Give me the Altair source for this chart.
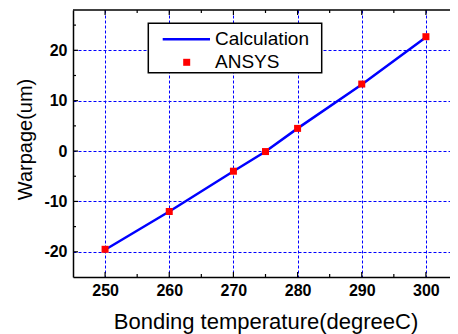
import altair as alt
import pandas as pd

# ---- data ----
temps = [250, 260, 270, 275, 280, 290, 300]
ansys = [-19.5, -12.0, -4.0, -0.1, 4.5, 13.3, 22.7]
calc = [-19.6, -12.0, -4.0, -0.1, 4.5, 13.2, 22.6]

x_major = [250, 260, 270, 280, 290, 300]
x_minor = [255, 265, 275, 285, 295]
y_major = [-20, -10, 0, 10, 20]
y_minor = [-15, -5, 5, 15, 25]
legend_labels = ["Calculation", "ANSYS"]

x_title = "Bonding temperature(degreeC)"
y_title = "Warpage(um)"

W, H = 385, 267
FONT = "Liberation Sans"
BLUE = "#0000ff"
RED = "#ff0000"

df = pd.DataFrame({"T": temps, "ANSYS": ansys, "Calc": calc})
one = pd.DataFrame({"k": [0]})

xs = alt.Scale(domain=[245, 305], nice=False, zero=False)
ys = alt.Scale(domain=[-25, 28], nice=False, zero=False)

grid_common = dict(
    grid=True, gridColor=BLUE, gridDash=[3, 2], gridWidth=1,
    ticks=False, tickSize=0, domain=True, domainColor="black", domainWidth=1.5,
    labelFont=FONT, labelFontWeight="bold", labelFontSize=16, labelColor="black",
    labelExpr="'' + datum.value",
    titleFont=FONT, titleFontWeight="normal", titleColor="black",
)

X_AX = alt.Axis(
    values=x_major, title=x_title, labelPadding=5, titleFontSize=22,
    titleX=W / 2, titleY=51, titleAlign="center", titleBaseline="alphabetic",
    **grid_common)
Y_AX = alt.Axis(
    values=y_major, title=y_title, labelPadding=6, titleFontSize=20,
    titleX=-42, titleY=129, titleAngle=270, titleAlign="center",
    titleBaseline="alphabetic", **grid_common)

line = alt.Chart(df).mark_line(color=BLUE, strokeWidth=2.5).encode(
    x=alt.X("T:Q", scale=xs, axis=X_AX),
    y=alt.Y("Calc:Q", scale=ys, axis=Y_AX),
)

pts = alt.Chart(df).mark_square(color=RED, size=49, opacity=1).encode(
    x=alt.X("T:Q", scale=xs, axis=X_AX),
    y=alt.Y("ANSYS:Q", scale=ys, axis=Y_AX),
)


def xticks(vals, length, top):
    d = pd.DataFrame({"v": vals})
    return alt.Chart(d).mark_tick(orient="vertical", size=length, thickness=1.2,
                                  color="black", opacity=1).encode(
        x=alt.X("v:Q", scale=xs, axis=X_AX),
        y=alt.value(length / 2 if top else H - length / 2),
    )


def yticks(vals, length, right):
    d = pd.DataFrame({"v": vals})
    return alt.Chart(d).mark_tick(orient="horizontal", size=length, thickness=1.2,
                                  color="black", opacity=1).encode(
        y=alt.Y("v:Q", scale=ys, axis=Y_AX),
        x=alt.value(W - length / 2 if right else length / 2),
    )


ticks = [
    xticks(x_major, 5, False), xticks(x_minor, 3, False),
    xticks(x_major, 5, True), xticks(x_minor, 3, True),
    yticks(y_major, 5, False), yticks(y_minor, 3, False),
    yticks(y_major, 5, True), yticks(y_minor, 3, True),
]

top_rule = alt.Chart(one).mark_rule(color="black", strokeWidth=1.5).encode(
    x=alt.value(0), x2=alt.value(W), y=alt.value(0))

# ---- legend ----
leg_box = alt.Chart(one).mark_rect(fill="white", stroke="black", strokeWidth=1.5).encode(
    x=alt.value(75.3), x2=alt.value(248.7), y=alt.value(13.3), y2=alt.value(62.7))
leg_line = alt.Chart(one).mark_rule(color=BLUE, strokeWidth=2.5).encode(
    x=alt.value(89.7), x2=alt.value(137), y=alt.value(29.3))
leg_sq = alt.Chart(one).mark_square(color=RED, size=49, opacity=1).encode(
    x=alt.value(113.7), y=alt.value(52.3))
leg_t1 = alt.Chart(one).mark_text(text=legend_labels[0], font=FONT, fontSize=19,
                                  align="left", baseline="alphabetic", color="black").encode(
    x=alt.value(142), y=alt.value(35))
leg_t2 = alt.Chart(one).mark_text(text=legend_labels[1], font=FONT, fontSize=19,
                                  align="left", baseline="alphabetic", color="black").encode(
    x=alt.value(142), y=alt.value(58.3))

chart = alt.layer(
    line, *ticks, top_rule, pts, leg_box, leg_line, leg_sq, leg_t1, leg_t2
).properties(
    width=W, height=H,
    autosize=alt.AutoSizeParams(type="none"),
    padding={"left": 65, "top": 2, "right": -8, "bottom": 57},
).configure_view(stroke=None)

chart.save("out.html", embed_options={"renderer": "svg", "actions": False})
